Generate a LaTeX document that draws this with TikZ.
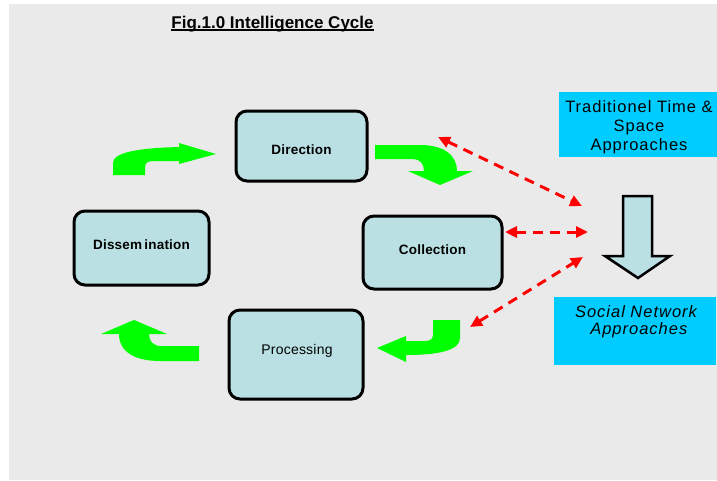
\documentclass[tikz,border=0pt]{standalone}
\usepackage{fontspec}
\setmainfont{Liberation Sans}
\newfontfamily\spacedfont[LetterSpace=6]{Liberation Sans}
\newfontfamily\lightspaced[LetterSpace=1.5]{Liberation Sans}
\usetikzlibrary{arrows.meta}
\definecolor{bggray}{HTML}{EAEAEA}
\definecolor{boxblue}{HTML}{BAE0E3}
\definecolor{cyanbox}{HTML}{00CCFF}
\definecolor{arrgreen}{HTML}{00FF00}
\definecolor{dashred}{HTML}{FF0000}
\tikzset{
  stage/.style={draw=black, line width=3pt, fill=boxblue, rounded corners=11pt, inner sep=0pt},
  stagetext/.style={inner sep=0pt, anchor=base, font=\lightspaced\bfseries\fontsize{13.5}{16}\selectfont},
  side/.style={fill=cyanbox, inner sep=0pt},
  sidetext/.style={inner sep=0pt, anchor=base, font=\spacedfont\fontsize{16.5}{19}\selectfont},
  greenarrow/.style={fill=arrgreen, draw=none},
  reddash/.style={draw=dashred, line width=3pt, dash pattern=on 10pt off 7pt,
     {Triangle[length=12pt,width=11pt]}-{Triangle[length=12pt,width=11pt]}},
}
\begin{document}
\begin{tikzpicture}[x=1pt,y=-1pt]
\useasboundingbox (0,0) rectangle (717,480);
\fill[white] (0,0) rectangle (717,480);
\fill[bggray] (9,4) rectangle (717,480);
% title
\node[inner sep=0pt, anchor=base, font=\bfseries\fontsize{17}{20}\selectfont] (title) at (272.5,28) {Fig.1.0 Intelligence Cycle};
\draw[line width=2.5pt] ([yshift=-2pt]title.base west) -- ([yshift=-2pt]title.base east);
% stages
\node[stage, minimum width=131pt, minimum height=70pt] (dir) at (301.5,146) {};
\node[stage, minimum width=135pt, minimum height=74pt] (dis) at (141.5,248) {};
\node[stage, minimum width=139pt, minimum height=73pt] (col) at (432.5,252.5) {};
\node[stage, minimum width=134pt, minimum height=89pt] (pro) at (296,354.5) {};
\node[stagetext] (dirt) at (301.5,154) {Direction};
\node[stagetext] (dist) at (141.5,249) {Dissem\,ination};
\node[stagetext] (colt) at (432.5,254) {Collection};
\node[stagetext, font=\lightspaced\fontsize{14}{16}\selectfont] (prot) at (297,354) {Processing};
% green curved arrows
\fill[greenarrow] (113,175) -- (113,163) .. controls (113,152) and (140,148) .. (179,147) -- (179,143) -- (216,154) -- (179,164) -- (179,161) -- (153,161) .. controls (148,161) and (145,163) .. (145,167) -- (145,175) -- cycle;
\fill[greenarrow] (375,145) -- (420,145) .. controls (445,145) and (457,156) .. (457,171) -- (473,171) -- (440,185) -- (408,171) -- (424,171) .. controls (424,164) and (420,159) .. (413,159) -- (375,159) -- cycle;
\fill[greenarrow] (199,346) -- (161,346) .. controls (153,346) and (149,341) .. (149,334) -- (167,334) -- (134,320) -- (101,334) -- (119,334) .. controls (119,352) and (135,361) .. (160,361) -- (199,361) -- cycle;
\fill[greenarrow] (433,320) -- (460,320) -- (460,338) .. controls (460,350) and (440,355) .. (406,355) -- (406,362) -- (377,348) -- (406,336) -- (406,341) -- (425,341) .. controls (430,341) and (433,339) .. (433,335) -- cycle;
% right side
\node[side, minimum width=158pt, minimum height=65pt] (trad) at (638,124.5) {};
\node[sidetext] (tradt) at (639,112) {\begin{tabular}[t]{@{}c@{}}Traditionel Time \&\\Space\\Approaches\end{tabular}};
\node[side, minimum width=162pt, minimum height=68pt] (soc) at (635,331) {};
\node[sidetext, font=\spacedfont\itshape\fontsize{16.5}{17}\selectfont] (soct) at (636,317) {\begin{tabular}[t]{@{}c@{}}Social Network\\ \ Approaches\end{tabular}};
\draw[draw=black, line width=2.5pt, fill=boxblue, line join=miter] (623,196) -- (652,196) -- (652,256) -- (670,256) -- (638,278) -- (605,256) -- (623,256) -- cycle;
% red dashed arrows
\coordinate (a1) at (438,137);
\coordinate (b1) at (582,206);
\coordinate (a2) at (505,232);
\coordinate (b2) at (588,232);
\coordinate (a3) at (470,327);
\coordinate (b3) at (583,257);
\draw[reddash] (a1) -- (b1);
\draw[reddash] (a2) -- (b2);
\draw[reddash] (a3) -- (b3);
\end{tikzpicture}
\end{document}
